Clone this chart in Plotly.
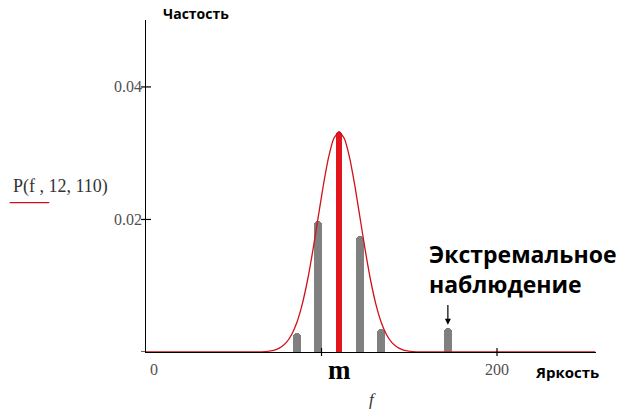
import plotly.graph_objects as go

# Density curve P(f, 12, 110): brightness f and frequency values
curve_f = [0, 56, 62, 68, 71, 74, 77, 80, 83, 86, 89, 92, 95, 98, 101, 104, 107, 110,
           113, 116, 119, 122, 125, 128, 131, 134, 137, 140, 143, 146, 149, 152, 158, 164, 256]
curve_p = [0, 0, 0.00001, 0.00007, 0.00017, 0.00037, 0.00076, 0.00146, 0.00265, 0.0045,
           0.00719, 0.01079, 0.01522, 0.02016, 0.02509, 0.02934, 0.03222, 0.03324,
           0.03222, 0.02934, 0.02509, 0.02016, 0.01522, 0.01079, 0.00719, 0.0045,
           0.00265, 0.00146, 0.00076, 0.00037, 0.00017, 0.00007, 0.00001, 0, 0]

# Observed histogram bars (brightness, frequency)
bar_f = [86, 98, 110, 122, 134, 172]
bar_p = [0.0029, 0.0198, 0.0332, 0.0175, 0.0035, 0.0036]
bar_colors = ["#808080", "#808080", "#e3141c", "#808080", "#808080", "#808080"]
bar_widths = [4.6, 4.6, 3.6, 4.6, 4.6, 4.6]

y_ticks = [0.02, 0.04]
y_tick_text = ["0.02", "0.04"]
x_ticks = [100, 200]
x_tick_text = ["", "200"]

mean_f = 110
extreme_f = 172

fig = go.Figure()

fig.add_trace(go.Bar(
    x=bar_f, y=bar_p, width=bar_widths,
    marker=dict(color=bar_colors, line=dict(width=0), cornerradius=4),
    showlegend=False, hoverinfo="skip",
))

fig.add_trace(go.Scatter(
    x=curve_f, y=curve_p, mode="lines",
    line=dict(color="#d0101a", width=1.3, shape="spline", smoothing=0.5),
    showlegend=False, hoverinfo="skip",
))

serif = "Liberation Serif"
sans_bold = "Open Sans"
tick_color = "#505050"

# crossing tick marks on both axes (paper refs so they are not clipped)
tick_shapes = []
for v in y_ticks:
    tick_shapes.append(dict(type="line", xref="paper", yref="y", xsizemode="pixel", xanchor=0,
                            x0=-5, x1=5, y0=v, y1=v, line=dict(color="black", width=1.2)))
tick_shapes.append(dict(type="line", xref="paper", yref="y", xsizemode="pixel", xanchor=0,
                        x0=-5, x1=0, y0=0, y1=0, line=dict(color="black", width=1.2)))
for v in x_ticks:
    tick_shapes.append(dict(type="line", xref="x", yref="paper", ysizemode="pixel", yanchor=0,
                            x0=v, x1=v, y0=-4, y1=4, line=dict(color="black", width=1.2)))

# tick labels placed next to the axes
tick_labels = []
for v, t in zip(y_ticks, y_tick_text):
    tick_labels.append(dict(text=t, x=0, y=v, xref="paper", yref="y", xanchor="right",
                            yanchor="middle", xshift=-2, showarrow=False,
                            font=dict(family=serif, size=16, color=tick_color)))
for v, t in zip([0] + x_ticks, ["0"] + x_tick_text):
    if t:
        tick_labels.append(dict(text=t, x=v, y=0, xref="x", yref="paper",
                                xanchor="left" if v == 0 else "center",
                                yanchor="top", xshift=2 if v == 0 else 0, yshift=-7,
                                showarrow=False,
                                font=dict(family=serif, size=16, color=tick_color)))

fig.update_layout(
    width=622, height=414,
    margin=dict(l=146, r=26, t=20, b=62),
    paper_bgcolor="white", plot_bgcolor="white",
    bargap=0,
    xaxis=dict(
        range=[0, 256.4], showgrid=False, zeroline=False,
        showline=True, linecolor="black", linewidth=1.2, layer="below traces",
        showticklabels=False, ticks="", fixedrange=True,
    ),
    yaxis=dict(
        range=[0, 0.0501], showgrid=False, zeroline=False,
        showline=True, linecolor="black", linewidth=1.2, layer="below traces",
        showticklabels=False, ticks="", fixedrange=True,
    ),
    annotations=tick_labels + [
        dict(text="<b>Частость</b>", xref="paper", yref="paper", x=0.033, y=1.0,
             xanchor="left", yanchor="middle", yshift=7, showarrow=False,
             font=dict(family=sans_bold, size=14, color="black")),
        dict(text="<b>Яркость</b>", xref="paper", yref="paper", x=1.012, y=0,
             xanchor="right", yanchor="top", yshift=-8, showarrow=False,
             font=dict(family=sans_bold, size=15, color="black")),
        dict(text="<b>m</b>", x=mean_f, y=0, xref="x", yref="y", xanchor="center",
             yanchor="top", yshift=-1, showarrow=False,
             font=dict(family=serif, size=27, color="black")),
        dict(text="<i>f</i>", x=129, y=0, xref="x", yref="y", xanchor="center",
             yanchor="top", yshift=-36, showarrow=False,
             font=dict(family=serif, size=17, color="#333333")),
        dict(text="P(f , 12, 110)", xref="paper", yref="paper", x=-0.19, y=0.50,
             xanchor="center", yanchor="middle", showarrow=False,
             font=dict(family=serif, size=18, color="#333333")),
        dict(text="<b>Экстремальное<br>наблюдение</b>", x=extreme_f, y=0.0, xref="x", yref="y",
             xanchor="left", yanchor="bottom", xshift=-21, yshift=50, showarrow=False,
             align="left",
             font=dict(family=sans_bold, size=23, color="black")),
        dict(text="", x=extreme_f, y=0.0041, xref="x", yref="y",
             ax=extreme_f, ay=0.0073, axref="x", ayref="y",
             showarrow=True, arrowhead=2, arrowsize=1, arrowwidth=1.2, arrowcolor="black"),
    ],
    shapes=tick_shapes + [
        dict(type="line", xref="paper", yref="paper", x0=-0.303, x1=-0.215,
             y0=0.45, y1=0.45, line=dict(color="#d0101a", width=1.3)),
    ],
)

fig.write_html("out.html")
